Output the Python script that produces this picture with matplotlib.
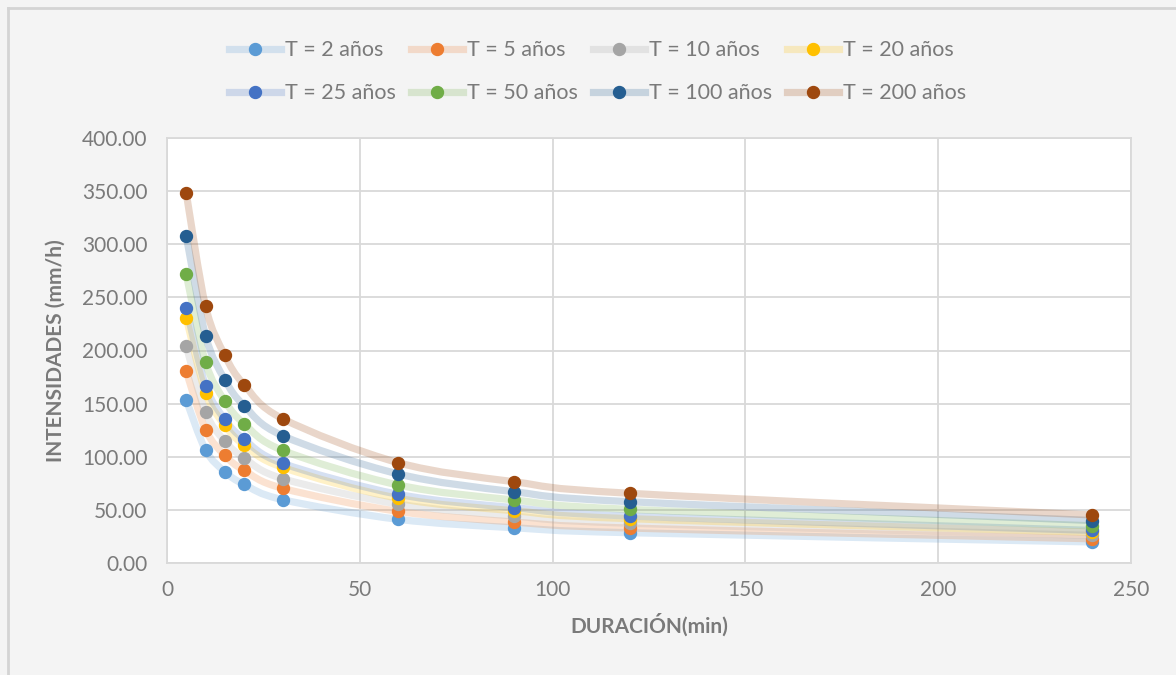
import numpy as np
import matplotlib
matplotlib.use('Agg')
import matplotlib.pyplot as plt
from matplotlib.path import Path
from matplotlib.patches import PathPatch
from matplotlib.lines import Line2D

plt.rcParams['font.family'] = ['Lato', 'DejaVu Sans']

# duracion (min)
duracion = [5, 10, 15, 20, 30, 60, 90, 120, 240]

# intensidades (mm/h) por periodo de retorno
t2   = [153.4, 106.4, 85.9, 74.0, 59.6, 41.1, 33.2, 28.5, 19.8]
t5   = [180.4, 125.5, 101.3, 87.2, 70.3, 48.6, 38.6, 32.9, 22.8]
t10  = [204.2, 141.8, 114.8, 98.8, 79.4, 55.5, 44.2, 37.4, 26.0]
t20  = [230.9, 160.3, 129.6, 111.1, 90.0, 60.9, 49.2, 41.7, 28.9]
t25  = [240.3, 166.9, 135.2, 116.4, 93.8, 64.6, 52.1, 44.2, 30.7]
t50  = [271.7, 188.9, 152.5, 131.1, 106.0, 73.4, 59.3, 50.5, 35.0]
t100 = [307.8, 214.0, 172.5, 148.1, 119.8, 83.8, 67.1, 57.7, 40.0]
t200 = [348.0, 241.6, 195.5, 167.8, 135.8, 94.4, 76.5, 65.6, 45.2]

series = [t2, t5, t10, t20, t25, t50, t100, t200]
labels = ["T = 2 años", "T = 5 años", "T = 10 años", "T = 20 años",
          "T = 25 años", "T = 50 años", "T = 100 años", "T = 200 años"]
colors = ['#5B9BD5', '#ED7D31', '#A5A5A5', '#FFC000',
          '#4472C4', '#70AD47', '#255E91', '#9E480E']

txt = '#7a7a7a'
grid = '#d9d9d9'


def smooth_path(x, y):
    # excel-like smoothed line, bezier between the points
    p = np.column_stack([x, y]).astype(float)
    verts = [p[0]]
    codes = [Path.MOVETO]
    n = len(p)
    for i in range(n - 1):
        a = p[i - 1] if i > 0 else p[i]
        b = p[i]
        c = p[i + 1]
        d = p[i + 2] if i + 2 < n else p[i + 1]
        c1 = b + (c - a) / 6.0
        c2 = c - (d - b) / 6.0
        verts += [c1, c2, c]
        codes += [Path.CURVE4] * 3
    return Path(verts, codes)


fig = plt.figure(figsize=(11.76, 6.75), dpi=100, facecolor='#f4f4f4')
ax = fig.add_axes([167/1176, 1 - 563/675, 964/1176, 425/675])
ax.set_facecolor('white')

for i in range(len(series)):
    pp = PathPatch(smooth_path(duracion, series[i]), facecolor='none',
                   edgecolor=colors[i], alpha=0.22, lw=5.2, zorder=2,
                   capstyle='round', joinstyle='round')
    ax.add_patch(pp)
for i in range(len(series)):
    ax.plot(duracion, series[i], 'o', color=colors[i], ms=8.6, zorder=3 + i)

ax.set_xlim(0, 250)
ax.set_ylim(0, 400)
ax.set_xticks(range(0, 251, 50))
ax.set_yticks(range(0, 401, 50))
ax.set_yticklabels(['%.2f' % v for v in range(0, 401, 50)])
ax.grid(True, color=grid, lw=1.3, zorder=0)
ax.set_axisbelow(True)
for s in ax.spines.values():
    s.set_color(grid)
    s.set_linewidth(1.3)
ax.tick_params(length=0, labelsize=15, labelcolor=txt)
ax.tick_params(axis='y', pad=14)
ax.tick_params(axis='x', pad=12)

ax.set_xlabel('DURACIÓN(min)', fontsize=15, fontweight='bold', color=txt, labelpad=10)
ax.set_ylabel('INTENSIDADES (mm/h)', fontsize=15, fontweight='bold', color=txt, labelpad=12)

# legend filled row by row like excel
order = [0, 4, 1, 5, 2, 6, 3, 7]
lines = [Line2D([0], [0], color=colors[i], lw=5.2, alpha=0.22) for i in range(8)]
mk = [Line2D([0], [0], color=colors[i], marker='o', ms=8.6, lw=0) for i in range(8)]
leg = fig.legend([(lines[i], mk[i]) for i in order], [labels[i] for i in order], ncol=4,
                 loc='upper center', bbox_to_anchor=(598/1176, 1 - 21/675),
                 frameon=False, fontsize=15.5, labelcolor=txt,
                 handlelength=2.4, handletextpad=0.2, columnspacing=0.7,
                 labelspacing=1.07)

# chart border (left and top visible)
fig.add_artist(Line2D([8/1176, 8/1176], [0, 1 - 8/675], color='#d4d4d4', lw=2,
                      transform=fig.transFigure))
fig.add_artist(Line2D([8/1176, 1], [1 - 8/675, 1 - 8/675], color='#d4d4d4', lw=2,
                      transform=fig.transFigure))

fig.savefig('out.png', dpi=100, facecolor=fig.get_facecolor())
